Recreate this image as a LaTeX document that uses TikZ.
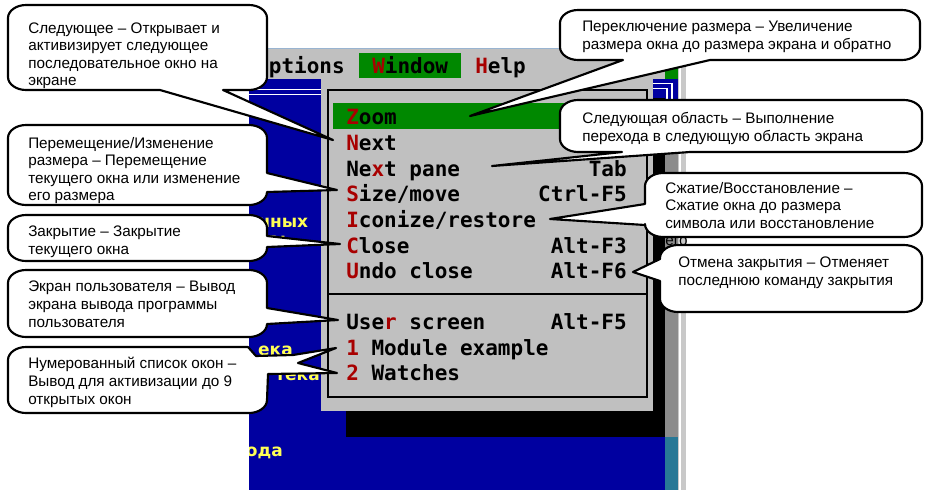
\documentclass[tikz,border=0pt]{standalone}
\usepackage{fontspec}
\setmainfont{Liberation Sans}
\newfontfamily\menufont{DejaVu Sans Mono}
\newfontfamily\yfont{DejaVu Sans}
\definecolor{tvgray}{RGB}{192,192,192}
\definecolor{tvblue}{RGB}{0,0,160}
\definecolor{tvgreen}{RGB}{0,136,0}
\definecolor{tvred}{RGB}{168,0,0}
\definecolor{tvyellow}{RGB}{255,255,85}
\definecolor{dith}{RGB}{140,140,140}
\definecolor{dteal}{RGB}{40,120,150}
\definecolor{winline}{RGB}{153,180,209}
\definecolor{barcol}{RGB}{200,200,200}
\tikzset{
  mtext/.style={font=\menufont\bfseries\fontsize{15.75}{18}\selectfont, inner sep=0pt, text=black},
  ytext/.style={font=\yfont\bfseries\fontsize{12.75}{15}\selectfont, inner sep=0pt, text=tvyellow},
  ctext/.style={font=\fontsize{11.45}{13.15}\selectfont, align=left, inner sep=0pt, anchor=base west},
  callshape/.style={fill=white, draw=black, line width=1.6pt, line join=round},
}
\newcommand\callbox[8]{\draw[callshape] (#1+18,#2) #5 -- (#3-18,#2) .. controls (#3-8,#2) and (#3,#2+6) .. (#3,#2+13) #6 -- (#3,#4-13) .. controls (#3,#4-6) and (#3-8,#4) .. (#3-18,#4) #7 -- (#1+18,#4) .. controls (#1+8,#4) and (#1,#4-6) .. (#1,#4-13) #8 -- (#1,#2+13) .. controls (#1,#2+6) and (#1+8,#2) .. (#1+18,#2) -- cycle;}
\newcommand\R[1]{\textcolor{tvred}{#1}}
\begin{document}
\begin{tikzpicture}[x=0.75pt,y=-0.75pt]
\useasboundingbox (0,0) rectangle (929,490);
\fill[white] (0,0) rectangle (929,490);
% ---------------- screenshot ----------------
\begin{scope}
\clip (249,48) rectangle (686,490);
\fill[tvblue] (249,79) rectangle (665,490);
\fill[tvgray] (249,48) rectangle (686,79);
\draw[winline, line width=1pt] (249,48.5) -- (686,48.5);
\fill[dith] (665,98) rectangle (678,437);
\fill[dteal] (665,437) rectangle (678,490);
\fill[barcol] (678,48) rectangle (686,490);
\draw[white, line width=1pt] (680,48) -- (680,490);
\fill[tvgreen] (665,68) rectangle (678,79);
\fill[tvblue] (653,79) rectangle (678,100);
\draw[white, line width=1.1pt] (249,89.5) -- (325,89.5) (249,94.5) -- (325,94.5);
\draw[white, line width=1.1pt] (653,83.5) -- (672,83.5) -- (672,100) (653,88.5) -- (667,88.5) -- (667,100);
% yellow text on the desktop
\node[ytext, anchor=base west] (y1) at (258,227) {нных};
\node[ytext, anchor=base west] (y2) at (268,245) {а:};
\node[ytext, anchor=base east] (y3) at (293,355) {ека};
\node[ytext, anchor=base east] (y4) at (320,380) {тека};
\node[ytext, anchor=base east] (y5) at (283,456) {ода};
% drop-down menu
\fill[black] (346,411) rectangle (665,437);
\fill[black] (653,98) rectangle (665,437);
\fill[tvgray] (321,79) rectangle (653,411);
\draw[black, line width=1.5pt] (327.5,89.5) rectangle (646.5,396.5);
\draw[black, line width=1.5pt] (327.5,294) -- (646.5,294);
\fill[tvgreen] (359,53) rectangle (461,78);
\fill[tvgreen] (333,103) rectangle (641,129);
% menu bar
\node[mtext, anchor=base west] (mOpt) at (256,73) {\R{O}ptions};
\node[mtext, anchor=base west] (mWin) at (372,73) {\R{W}indow};
\node[mtext, anchor=base west] (mHelp) at (475,73) {\R{H}elp};
% menu items
\node[mtext, anchor=base west] (iZoom) at (346,124) {\R{Z}oom};
\node[mtext, anchor=base west] (iNext) at (346,150) {\R{N}ext};
\node[mtext, anchor=base west] (iPane) at (346,176) {Ne\R{x}t pane};
\node[mtext, anchor=base west] (iSize) at (346,201) {\R{S}ize/move};
\node[mtext, anchor=base west] (iIcon) at (346,227) {\R{I}conize/restore};
\node[mtext, anchor=base west] (iClose) at (346,253) {\R{C}lose};
\node[mtext, anchor=base west] (iUndo) at (346,278) {\R{U}ndo close};
\node[mtext, anchor=base west] (iUser) at (346,329) {Use\R{r} screen};
\node[mtext, anchor=base west] (iOne) at (346,355) {\R{1} Module example};
\node[mtext, anchor=base west] (iTwo) at (346,380) {\R{2} Watches};
\node[mtext, anchor=base east] (kPane) at (627,176) {Tab};
\node[mtext, anchor=base east] (kSize) at (627,201) {Ctrl-F5};
\node[mtext, anchor=base east] (kClose) at (627,253) {Alt-F3};
\node[mtext, anchor=base east] (kUndo) at (627,278) {Alt-F6};
\node[mtext, anchor=base east] (kUser) at (627,329) {Alt-F5};
\end{scope}
% ---------------- callout tips ----------------
\coordinate (tNext) at (333,140);
\coordinate (tZoom) at (470,116);
\coordinate (tPane) at (492,166);
\coordinate (tIcon) at (550,219);
\coordinate (tUndo) at (633,272);
\coordinate (tSize) at (337,190);
\coordinate (tClose) at (340,244);
\coordinate (tUser) at (338,320);
\coordinate (tOne) at (336,348);
\coordinate (tTwo) at (337,373);
% ---------------- callouts (text node anchored at the last line's baseline) ----------------
\callbox{8}{5}{267}{90}{}{}{-- (223,90) -- (tNext) -- (160,90)}{}
\node[ctext] (c1) at (28,85.6) {Следующее – Открывает и\\активизирует следующее\\последовательное окно на\\экране};
\callbox{8}{125}{267}{205}{}{-- (267,173) -- (tSize) -- (267,192)}{}{}
\node[ctext] (c6) at (28,200.6) {Перемещение/Изменение\\размера – Перемещение\\текущего окна или изменение\\его размера};
\callbox{8}{215}{267}{261}{}{-- (267,236) -- (tClose) -- (267,247)}{}{}
\node[ctext] (c7) at (28,254.5) {Закрытие – Закрытие\\текущего окна};
\callbox{8}{270}{267}{337}{}{-- (267,308) -- (tUser) -- (267,324)}{}{}
\node[ctext] (c8) at (28,327) {Экран пользователя – Вывод\\экрана вывода программы\\пользователя};
\draw[callshape] (26,347) -- (248,347) -- (256,356) -- (293,355) -- (tOne) -- (298,363) -- (tTwo) -- (268,374) -- (267,400) .. controls (267,407) and (259,413) .. (249,413) -- (26,413) .. controls (16,413) and (8,407) .. (8,400) -- (8,360) .. controls (8,353) and (16,347) .. (26,347) -- cycle;
\node[ctext] (c9) at (28,404) {Нумерованный список окон –\\Вывод для активизации до 9\\открытых окон};
\callbox{560}{10}{920}{60}{}{}{-- (710,60) -- (tZoom) -- (623,60)}{}
\node[ctext] (c2) at (582,49.5) {Переключение размера – Увеличение\\размера окна до размера экрана и обратно};
\callbox{560}{100}{922}{152}{}{}{-- (690,152) -- (tPane) -- (622,152)}{}
\node[ctext] (c3) at (582,141.5) {Следующая область – Выполнение\\перехода в следующую область экрана};
\callbox{645}{173}{922}{237}{}{}{}{-- (645,225) -- (tIcon) -- (645,204)}
\node[ctext] (c4) at (665,245.6) {Сжатие/Восстановление –\\Сжатие окна до размера\\символа или восстановление\\его};
\callbox{660}{245}{922}{312}{}{}{}{-- (660,281) -- (tUndo) -- (660,259)}
\node[ctext] (c5) at (678,285.5) {Отмена закрытия – Отменяет\\последнюю команду закрытия};
\end{tikzpicture}
\end{document}
